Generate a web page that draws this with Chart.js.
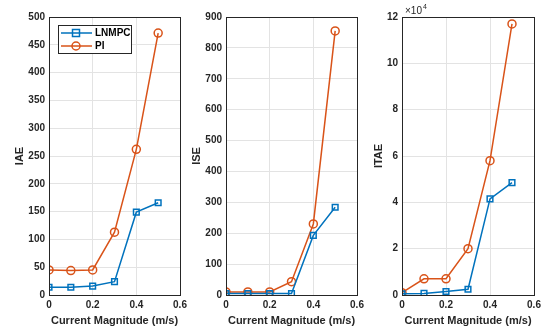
<!DOCTYPE html>
<html>
<head>
<meta charset="utf-8">
<script src="https://cdn.jsdelivr.net/npm/chart.js@4"></script>
<style>
  body { margin: 0; background: #fff; }
  #wrap { position: relative; width: 548px; height: 332px; overflow: hidden; }
  canvas { position: absolute; top: 0; }
</style>
</head>
<body>
<div id="wrap">
  <canvas id="iaeChart" style="left:0px" width="200" height="332"></canvas>
  <canvas id="iseChart" style="left:180px" width="190" height="332"></canvas>
  <canvas id="itaeChart" style="left:356px" width="192" height="332"></canvas>
</div>
<script>
// data
const currentMag = [0, 0.1, 0.2, 0.3, 0.4, 0.5];
const iaeLnmpc = [14, 14, 16, 24, 149, 166];
const iaePi = [45, 44, 45, 113, 262, 471];
const iseLnmpc = [5, 5, 5, 5, 193, 284];
const isePi = [10, 10, 10, 43, 230, 855];
const itaeLnmpc = [500, 700, 1500, 2500, 41500, 48500];
const itaePi = [1000, 7000, 7000, 20000, 58000, 117000];
const xTicks = [0, 0.2, 0.4, 0.6];

const BLUE = '#0072BD';
const ORANGE = '#D95319';
const AXIS = '#262626';
const FONT = '"Liberation Sans", Arial, sans-serif';

function pts(ys) {
    return currentMag.map((x, i) => ({ x: x, y: ys[i] }));
}

// MATLAB-like box around plot area
const boxPlugin = {
    id: 'box',
    afterDraw(chart) {
        const a = chart.chartArea;
        const ctx = chart.ctx;
        ctx.save();
        ctx.strokeStyle = AXIS;
        ctx.lineWidth = 1;
        ctx.strokeRect(Math.round(a.left) + 0.5, Math.round(a.top) + 0.5,
            Math.round(a.right - a.left), Math.round(a.bottom - a.top));
        ctx.restore();
    }
};

const legendPlugin = {
    id: 'boxLegend',
    afterDraw(chart, args, opts) {
        if (!opts.show) return;
        const ctx = chart.ctx;
        const x0 = 58, y0 = 25, w = 73, h = 28;
        ctx.save();
        ctx.fillStyle = '#fff';
        ctx.fillRect(x0, y0, w, h);
        ctx.strokeStyle = AXIS;
        ctx.lineWidth = 1;
        ctx.strokeRect(x0 + 0.5, y0 + 0.5, w, h);
        chart.data.datasets.forEach((ds, i) => {
            const y = y0 + 8 + i * 13;
            ctx.strokeStyle = ds.borderColor;
            ctx.lineWidth = 1.5;
            ctx.beginPath();
            ctx.moveTo(x0 + 3, y);
            ctx.lineTo(x0 + 34, y);
            ctx.stroke();
            const cx = x0 + 18;
            if (ds.pointStyle === 'rect') {
                ctx.strokeRect(cx - 3.5, y - 3.5, 7, 7);
            } else {
                ctx.beginPath();
                ctx.arc(cx, y, 4, 0, Math.PI * 2);
                ctx.stroke();
            }
            ctx.fillStyle = '#000';
            ctx.font = 'bold 10px ' + FONT;
            ctx.textBaseline = 'middle';
            ctx.fillText(ds.label, x0 + 37, y + 0.5);
        });
        ctx.restore();
    }
};

const expPlugin = {
    id: 'expLabel',
    afterDraw(chart, args, opts) {
        if (!opts.show) return;
        const ctx = chart.ctx;
        const a = chart.chartArea;
        ctx.save();
        ctx.fillStyle = AXIS;
        ctx.textBaseline = 'alphabetic';
        ctx.font = '10px ' + FONT;
        ctx.fillText('\u00d710', a.left + 3, a.top - 3);
        ctx.font = '7px ' + FONT;
        ctx.fillText('4', a.left + 21, a.top - 8);
        ctx.restore();
    }
};

function makeChart(id, title, lnmpc, pi, yMax, yStep, yWidth, pad, opts) {
    opts = opts || {};
    const ctx = document.getElementById(id).getContext('2d');
    return new Chart(ctx, {
        type: 'line',
        data: {
            datasets: [{
                label: 'LNMPC',
                data: pts(lnmpc),
                borderColor: BLUE,
                borderWidth: 1.5,
                pointStyle: 'rect',
                pointRadius: 4,
                pointBorderWidth: 1.5,
                pointBorderColor: BLUE,
                pointBackgroundColor: 'rgba(0,0,0,0)',
                tension: 0
            }, {
                label: 'PI',
                data: pts(pi),
                borderColor: ORANGE,
                borderWidth: 1.5,
                pointStyle: 'circle',
                pointRadius: 4,
                pointBorderWidth: 1.5,
                pointBorderColor: ORANGE,
                pointBackgroundColor: 'rgba(0,0,0,0)',
                tension: 0
            }]
        },
        options: {
            responsive: false,
            animation: false,
            layout: { padding: pad },
            plugins: {
                legend: { display: false },
                tooltip: { enabled: false },
                boxLegend: { show: !!opts.legend },
                expLabel: { show: !!opts.exp }
            },
            scales: {
                x: {
                    type: 'linear',
                    min: 0, max: 0.6,
                    afterBuildTicks: s => { s.ticks = xTicks.map(v => ({ value: v })); },
                    afterFit: s => { s.height = 33; },
                    grid: { color: '#e3e3e3', drawTicks: false },
                    border: { display: false },
                    ticks: {
                        padding: 4,
                        color: AXIS,
                        font: { family: FONT, size: 10, weight: 'bold' },
                        maxRotation: 0,
                        callback: v => v === 0 ? '0' : String(v)
                    },
                    title: {
                        display: true,
                        text: 'Current Magnitude (m/s)',
                        color: AXIS,
                        padding: { top: 2, bottom: 0 },
                        font: { family: FONT, size: 11, weight: 'bold' }
                    }
                },
                y: {
                    min: 0, max: yMax,
                    ticks: {
                        stepSize: yStep,
                        padding: 4,
                        color: AXIS,
                        font: { family: FONT, size: 10, weight: 'bold' },
                        callback: opts.exp ? (v => String(v / 10000)) : (v => String(v))
                    },
                    afterFit: s => { s.width = yWidth; },
                    grid: { color: '#e3e3e3', drawTicks: false },
                    border: { display: false },
                    title: {
                        display: true,
                        text: title,
                        color: AXIS,
                        padding: { top: 0, bottom: 2 },
                        font: { family: FONT, size: 11, weight: 'bold' }
                    }
                }
            }
        },
        plugins: [boxPlugin, legendPlugin, expPlugin]
    });
}

makeChart('iaeChart', 'IAE', iaeLnmpc, iaePi, 500, 50, 36,
    { left: 13, right: 20, top: 17, bottom: 4 }, { legend: true });
makeChart('iseChart', 'ISE', iseLnmpc, isePi, 900, 100, 36,
    { left: 10, right: 13, top: 17, bottom: 4 });
makeChart('itaeChart', 'ITAE', itaeLnmpc, itaePi, 120000, 20000, 30,
    { left: 16, right: 14, top: 17, bottom: 4 }, { exp: true });
</script>
</body>
</html>
